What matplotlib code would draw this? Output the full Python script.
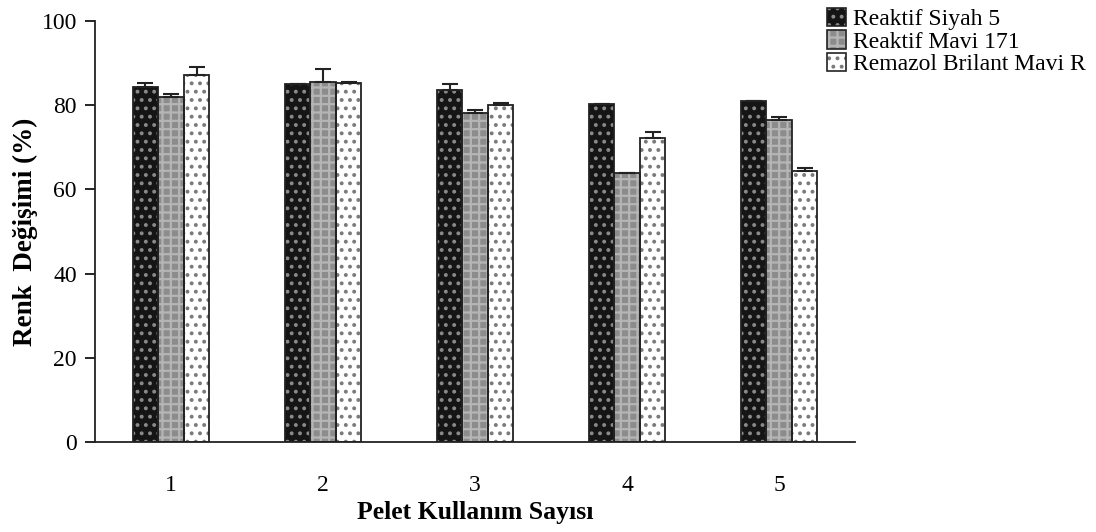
import numpy as np
import matplotlib.pyplot as plt

plt.rcParams['font.family'] = 'Liberation Serif'
plt.rcParams['hatch.linewidth'] = 1.6

# pellet reuse cycles
kullanim = [1, 2, 3, 4, 5]

# colour change (%) and upper error for each dye
siyah5 = [84.4, 85.0, 83.6, 80.2, 81.0]
siyah5_err = [0.8, 0.0, 1.4, 0.0, 0.0]
mavi171 = [82.0, 85.4, 78.1, 64.0, 76.4]
mavi171_err = [0.6, 3.2, 0.8, 0.0, 0.8]
remazol = [87.2, 85.2, 80.1, 72.3, 64.4]
remazol_err = [1.8, 0.4, 0.5, 1.3, 0.8]

etiketler = ['Reaktif Siyah 5', 'Reaktif Mavi 171', 'Remazol Brilant Mavi R']

fig = plt.figure(figsize=(10.96, 5.32), dpi=100)
ax = fig.add_axes([0.0867, 0.169, 0.6935, 0.7915])

x = np.arange(len(kullanim))
w = 0.168

series = [
    (siyah5, siyah5_err, '#151515', '#8a8a8a', '..'),
    (mavi171, mavi171_err, '#8c8c8c', '#b5b5b5', '++'),
    (remazol, remazol_err, 'white', '#7a7a7a', '..'),
]

leg_handles = []
for i, (vals, err, fc, hc, hatch) in enumerate(series):
    pos = x + (i - 1) * w
    ax.bar(pos, vals, w, color=fc, edgecolor=hc, hatch=hatch, linewidth=0, zorder=2)
    ax.bar(pos, vals, w, fill=False, edgecolor='#222222', linewidth=1.3, zorder=3)
    ax.errorbar(pos, vals, yerr=[np.zeros(len(err)), err], fmt='none',
                ecolor='#222222', elinewidth=1.5, capsize=6, capthick=1.5, zorder=4)
    # legend patch: hatched fill plus dark outline
    leg_handles.append((
        plt.Rectangle((0, 0), 1, 1, facecolor=fc, edgecolor=hc, hatch=hatch, linewidth=0),
        plt.Rectangle((0, 0), 1, 1, fill=False, edgecolor='#222222', linewidth=1.2),
    ))

ax.set_xlim(-0.5, 4.5)
ax.set_ylim(0, 100)
ax.set_yticks([0, 20, 40, 60, 80, 100])
ax.set_xticks(x)
ax.set_xticklabels([str(k) for k in kullanim])
ax.tick_params(axis='y', direction='out', length=7, width=1.2, labelsize=17, pad=6)
ax.tick_params(axis='x', length=0, labelsize=17, pad=24)
for s in ['top', 'right']:
    ax.spines[s].set_visible(False)
for s in ['left', 'bottom']:
    ax.spines[s].set_linewidth(1.3)
    ax.spines[s].set_color('#222222')

ax.set_ylabel('Renk  Değişimi (%)', fontsize=19.5, fontweight='bold')
ax.yaxis.set_label_coords(-0.075, 0.5)
ax.set_xlabel('Pelet Kullanım Sayısı', fontsize=18.5, fontweight='bold', labelpad=3)

fig.legend(leg_handles, etiketler, loc='upper left', bbox_to_anchor=(0.742, 1.012),
           frameon=False, fontsize=17, handlelength=0.8, handleheight=0.8,
           handletextpad=0.3, labelspacing=0.02, borderaxespad=0.2)

fig.savefig('out.png', dpi=100)
